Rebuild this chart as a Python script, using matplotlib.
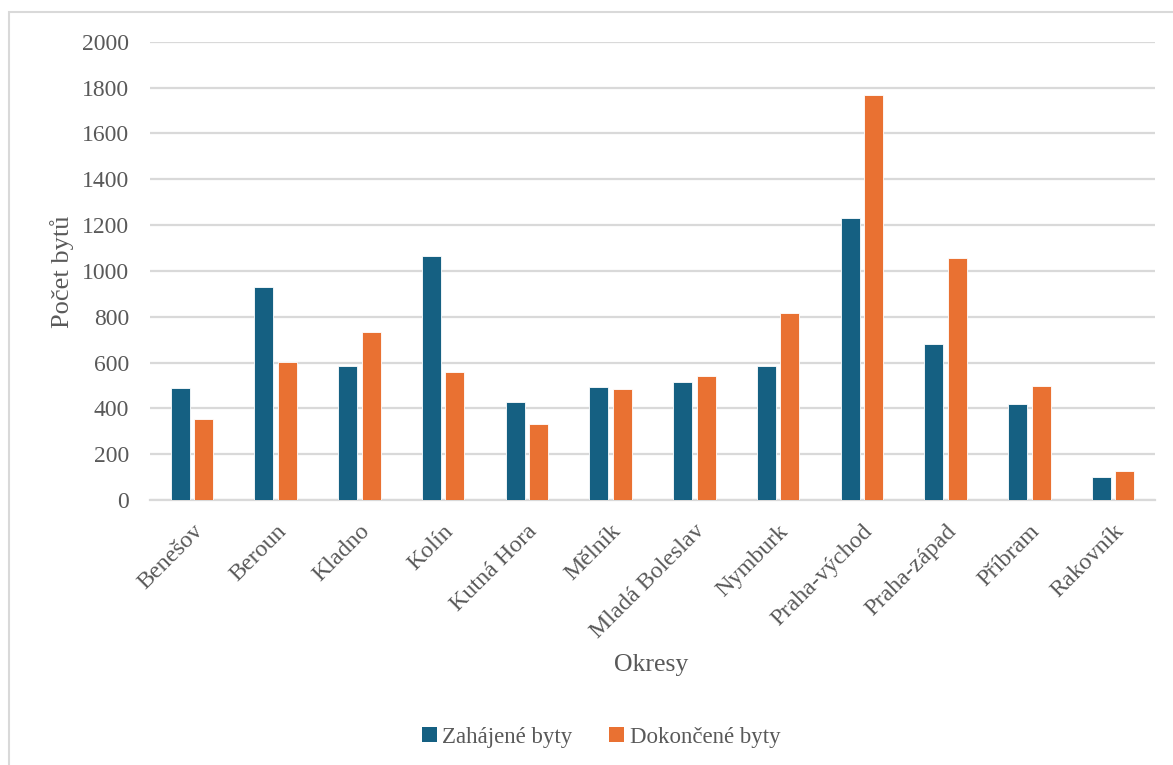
import matplotlib
matplotlib.use("Agg")
import matplotlib.pyplot as plt
from matplotlib.patches import Rectangle, Patch
import numpy as np

categories = ["Benešov", "Beroun", "Kladno", "Kolín", "Kutná Hora", "Mělník",
              "Mladá Boleslav", "Nymburk", "Praha-východ", "Praha-západ",
              "Příbram", "Rakovník"]
zahajene = [490, 928, 586, 1063, 429, 492, 514, 586, 1232, 682, 417, 99]
dokoncene = [352, 604, 732, 558, 330, 486, 542, 816, 1766, 1057, 496, 125]
yticks = [0, 200, 400, 600, 800, 1000, 1200, 1400, 1600, 1800, 2000]

plt.rcParams['font.family'] = ['Liberation Serif', 'DejaVu Serif']
W, H = 1173, 765
fig = plt.figure(figsize=(W / 100, H / 100), dpi=100)
fig.patch.set_facecolor('white')

# outer chart frame
fig.add_artist(Rectangle((9 / W, -0.05), 1.2, (H - 12) / H + 0.05,
                         transform=fig.transFigure, fill=False,
                         edgecolor='#D9D9D9', lw=1.5))

ax = fig.add_axes([150 / W, (H - 500) / H, (1155 - 150) / W, (500 - 41.7) / H])
x = np.arange(len(categories))
bw = 0.225
off = 0.14
blue = '#156082'
orange = '#E97132'
ax.bar(x - off, zahajene, bw, color=blue, edgecolor='white', linewidth=0.6, zorder=3)
ax.bar(x + off, dokoncene, bw, color=orange, edgecolor='white', linewidth=0.6, zorder=3)

ax.set_xlim(-0.5, len(categories) - 0.5)
ax.set_ylim(0, 2000)
ax.set_yticks(yticks)
ax.set_yticklabels([str(v) for v in yticks], fontsize=17, color='#595959')
ax.yaxis.grid(True, color='#D9D9D9', lw=1.6, zorder=0)
ax.tick_params(axis='y', length=0, pad=15)
ax.tick_params(axis='x', length=0, pad=15)
ax.set_xticks(x)
ax.set_xticklabels(categories, rotation=45, ha='right', rotation_mode='anchor',
                   fontsize=17.3, color='#595959')
for s in ['top', 'right', 'left']:
    ax.spines[s].set_visible(False)
ax.spines['bottom'].set_color('#D9D9D9')
ax.spines['bottom'].set_linewidth(1.6)

fig.text(62 / W, (H - 272) / H, 'Počet bytů', rotation=90, ha='center', va='center',
         fontsize=19, color='#595959')
fig.text(651 / W, (H - 665) / H, 'Okresy', ha='center', va='center',
         fontsize=18.5, color='#595959')

handles = [Patch(facecolor=blue, label='Zahájené byty'),
           Patch(facecolor=orange, label='Dokončené byty')]
fig.legend(handles=handles, loc='center', bbox_to_anchor=(601 / W, (H - 737) / H),
           ncol=2, frameon=False, fontsize=16.5, handlelength=0.65, handleheight=0.65,
           handletextpad=0.25, columnspacing=1.6, labelcolor='#595959')

fig.savefig('out.png', dpi=100, facecolor='white')
